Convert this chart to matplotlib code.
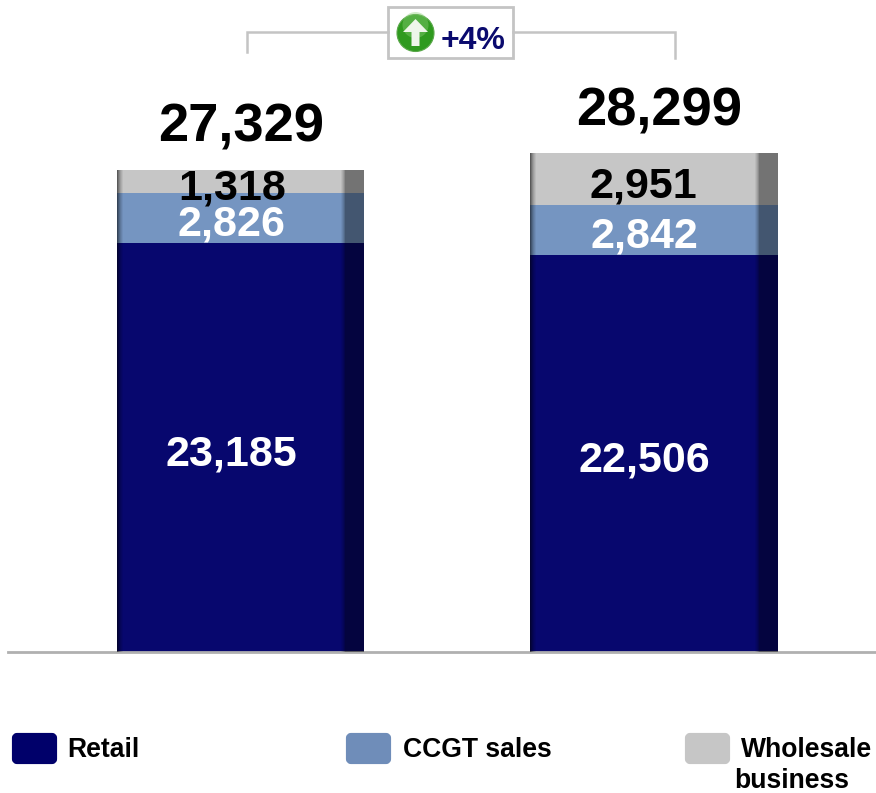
import matplotlib
matplotlib.use('Agg')
import matplotlib.pyplot as plt
from matplotlib.patches import Circle, FancyBboxPatch, Polygon, Rectangle
import numpy as np

plt.rcParams['font.family'] = ['Liberation Sans', 'DejaVu Sans']

# data
periods = [0, 1]
retail = [23185, 22506]
ccgt = [2826, 2842]
wholesale = [1318, 2951]
totals = [27329, 28299]
change_label = '+4%'
legend_names = ['Retail', 'CCGT sales', 'Wholesale', 'business']

NAVY = '#07076e'
BLUE = '#7595c1'
GREY = '#c6c6c6'
W, H = 876, 793

fig = plt.figure(figsize=(W / 100, H / 100), dpi=100, facecolor='w')

# main axes: baseline sits at pixel 652, 1px = about 56.7 units
ax = fig.add_axes([8 / W, (H - 652) / H, (W - 8) / W, 652 / H])
ax.set_xlim(-0.562, 1.537)
ax.set_ylim(0, 36982)
bar_w = 0.598

retail_a = np.array(retail)
ccgt_a = np.array(ccgt)
whole_a = np.array(wholesale)
tops = retail_a + ccgt_a + whole_a

ax.bar(periods, retail, bar_w, color=NAVY, linewidth=0)
ax.bar(periods, ccgt, bar_w, bottom=retail_a, color=BLUE, linewidth=0)
ax.bar(periods, wholesale, bar_w, bottom=retail_a + ccgt_a, color=GREY, linewidth=0)

# shaded strip down the right side and soft left edge of each bar
for x, top in zip(periods, tops):
    left = x - bar_w / 2
    right = x + bar_w / 2
    ax.bar(right - 0.0225, top, 0.045, color='k', alpha=0.42, linewidth=0, zorder=3)
    for i, a in enumerate([0.55, 0.42, 0.3, 0.2, 0.12, 0.05]):
        ax.bar(left + 0.0024 * (i + 0.5), top, 0.0025, color='k', alpha=a, linewidth=0, zorder=3)
    for i, a in enumerate([0.05, 0.12, 0.2, 0.3]):
        ax.bar(right - 0.045 - 0.0096 + 0.0024 * (i + 0.5), top, 0.0025, color='k', alpha=a,
               linewidth=0, zorder=3)

for s in ['top', 'right', 'left']:
    ax.spines[s].set_visible(False)
ax.spines['bottom'].set_color('#b0b0b0')
ax.spines['bottom'].set_linewidth(2)
ax.set_xticks([])
ax.set_yticks([])
ax.patch.set_alpha(0)

# overlay in pixel coordinates for bracket, labels, legend
ov = fig.add_axes([0, 0, 1, 1])
ov.set_xlim(0, W)
ov.set_ylim(H, 0)
ov.axis('off')
ov.patch.set_alpha(0)

line_grey = '#c4c4c4'
ov.plot([247, 247, 388], [52, 32, 32], color=line_grey, lw=1.8, solid_joinstyle='miter')
ov.plot([513, 675, 675], [32, 32, 58], color=line_grey, lw=1.8, solid_joinstyle='miter')
ov.add_patch(Rectangle((388, 6.5), 125, 51, fc='w', ec=line_grey, lw=2))

# green arrow icon
ov.add_patch(Circle((415.5, 33), 18.5, fc='#2f9a1f', ec='#5aa84a', lw=0.8))
ov.add_patch(Circle((415.5, 25), 13, fc='#8ed07a', ec='none', alpha=0.4))
ov.add_patch(Polygon([(415.5, 19), (428, 32), (419.5, 32), (419.5, 46), (411.5, 46), (411.5, 32), (403, 32)],
                     closed=True, fc='#eef6ea', ec='none'))
ov.text(473, 41, change_label, ha='center', va='center', fontsize=23, fontweight='bold', color='#0a0a6e')

total_xy = [(241, 128), (659, 112)]
for (x, y), v in zip(total_xy, totals):
    ov.text(x, y, f'{v:,}', ha='center', va='center', fontsize=39.2, fontweight='bold', color='k')

wh_xy = [(232, 188), (643, 186)]
cc_xy = [(231, 225), (644, 236)]
re_xy = [(231, 454), (644, 460)]
for xy, vals, col in [(wh_xy, wholesale, 'k'), (cc_xy, ccgt, 'w'), (re_xy, retail, 'w')]:
    for (x, y), v in zip(xy, vals):
        ov.text(x, y, f'{v:,}', ha='center', va='center', fontsize=31, fontweight='bold', color=col)

# legend
swatch_x = [12, 346, 685]
swatch_c = ['#00006a', '#6f8db9', GREY]
for x, c in zip(swatch_x, swatch_c):
    ov.add_patch(FancyBboxPatch((x + 2, 735), 41, 27, boxstyle='round,pad=0,rounding_size=3',
                                fc=c, ec=c, lw=3, joinstyle='round'))
legend_xy = [(67, 750), (403, 750), (741, 750), (734, 781)]
for (x, y), name in zip(legend_xy, legend_names):
    ov.text(x, y, name, ha='left', va='center', fontsize=19.1, fontweight='bold', color='k')

fig.savefig('out.png', dpi=100, facecolor='w')
